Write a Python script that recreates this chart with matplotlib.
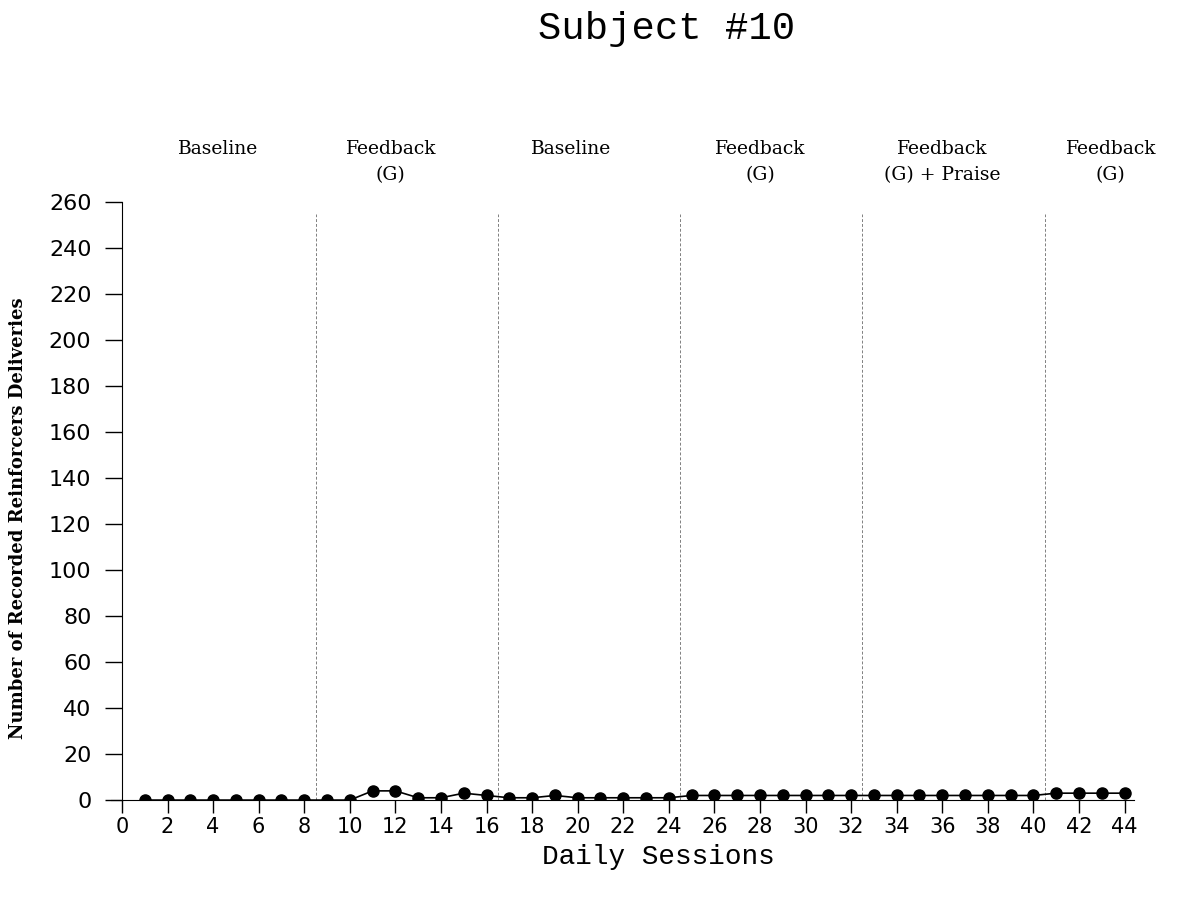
import numpy as np
import matplotlib.pyplot as plt

# === Donnees ===
sessions = np.arange(1, 45)
livraisons = [0, 0, 0, 0, 0, 0, 0, 0, 0, 0,
              4, 4, 1, 1, 3, 2, 1, 1, 2, 1,
              1, 1, 1, 1, 2, 2, 2, 2, 2, 2,
              2, 2, 2, 2, 2, 2, 2, 2, 2, 2,
              3, 3, 3, 3]
changements = [8.5, 16.5, 24.5, 32.5, 40.5]
phases = ["Baseline", "Feedback\n(G)", "Baseline", "Feedback\n(G)",
          "Feedback\n(G) + Praise", "Feedback\n(G)"]
pos_phases = [4.2, 11.8, 19.7, 28.0, 36.0, 43.4]

# === Affichage ===
fig = plt.figure(figsize=(11.8, 9.02), dpi=100)
ax = fig.add_axes([0.0937, 0.113, 0.867, 0.663])

for c in changements:
    ax.axvline(c, ymin=0, ymax=0.98, color='gray', linestyle=(0, (3, 2)), linewidth=0.7)

ax.plot(sessions, livraisons, color='black', linewidth=1.2, marker='o',
        markersize=8, markerfacecolor='black')

for p, t in zip(pos_phases, phases):
    ax.text(p, 287, t, ha='center', va='top', fontsize=13.5, family='DejaVu Serif',
            linespacing=1.55, clip_on=False)

ax.set_xlim(-0.5, 44.4)
ax.set_ylim(0, 260)
ax.spines['left'].set_position(('data', 0))
ax.set_xticks(np.arange(0, 45, 2))
ax.set_yticks(np.arange(0, 261, 20))
ax.spines['top'].set_visible(False)
ax.spines['right'].set_visible(False)
ax.tick_params(axis='both', direction='out', length=12, width=1, labelsize=16, pad=10)
ax.tick_params(axis='x', length=9, pad=3, labelsize=15)

fig.text(0.558, 0.05, "Daily Sessions", ha='center', va='center', fontsize=20,
         family='Liberation Mono')
fig.text(0.015, 0.426, "Number of Recorded Reinforcers Deliveries", rotation=90,
         ha='center', va='center', fontsize=13, family='DejaVu Serif', fontweight='bold')
fig.text(0.565, 0.968, "Subject #10", ha='center', va='center', fontsize=28,
         family='Liberation Mono')

plt.savefig("out.png", dpi=100)
